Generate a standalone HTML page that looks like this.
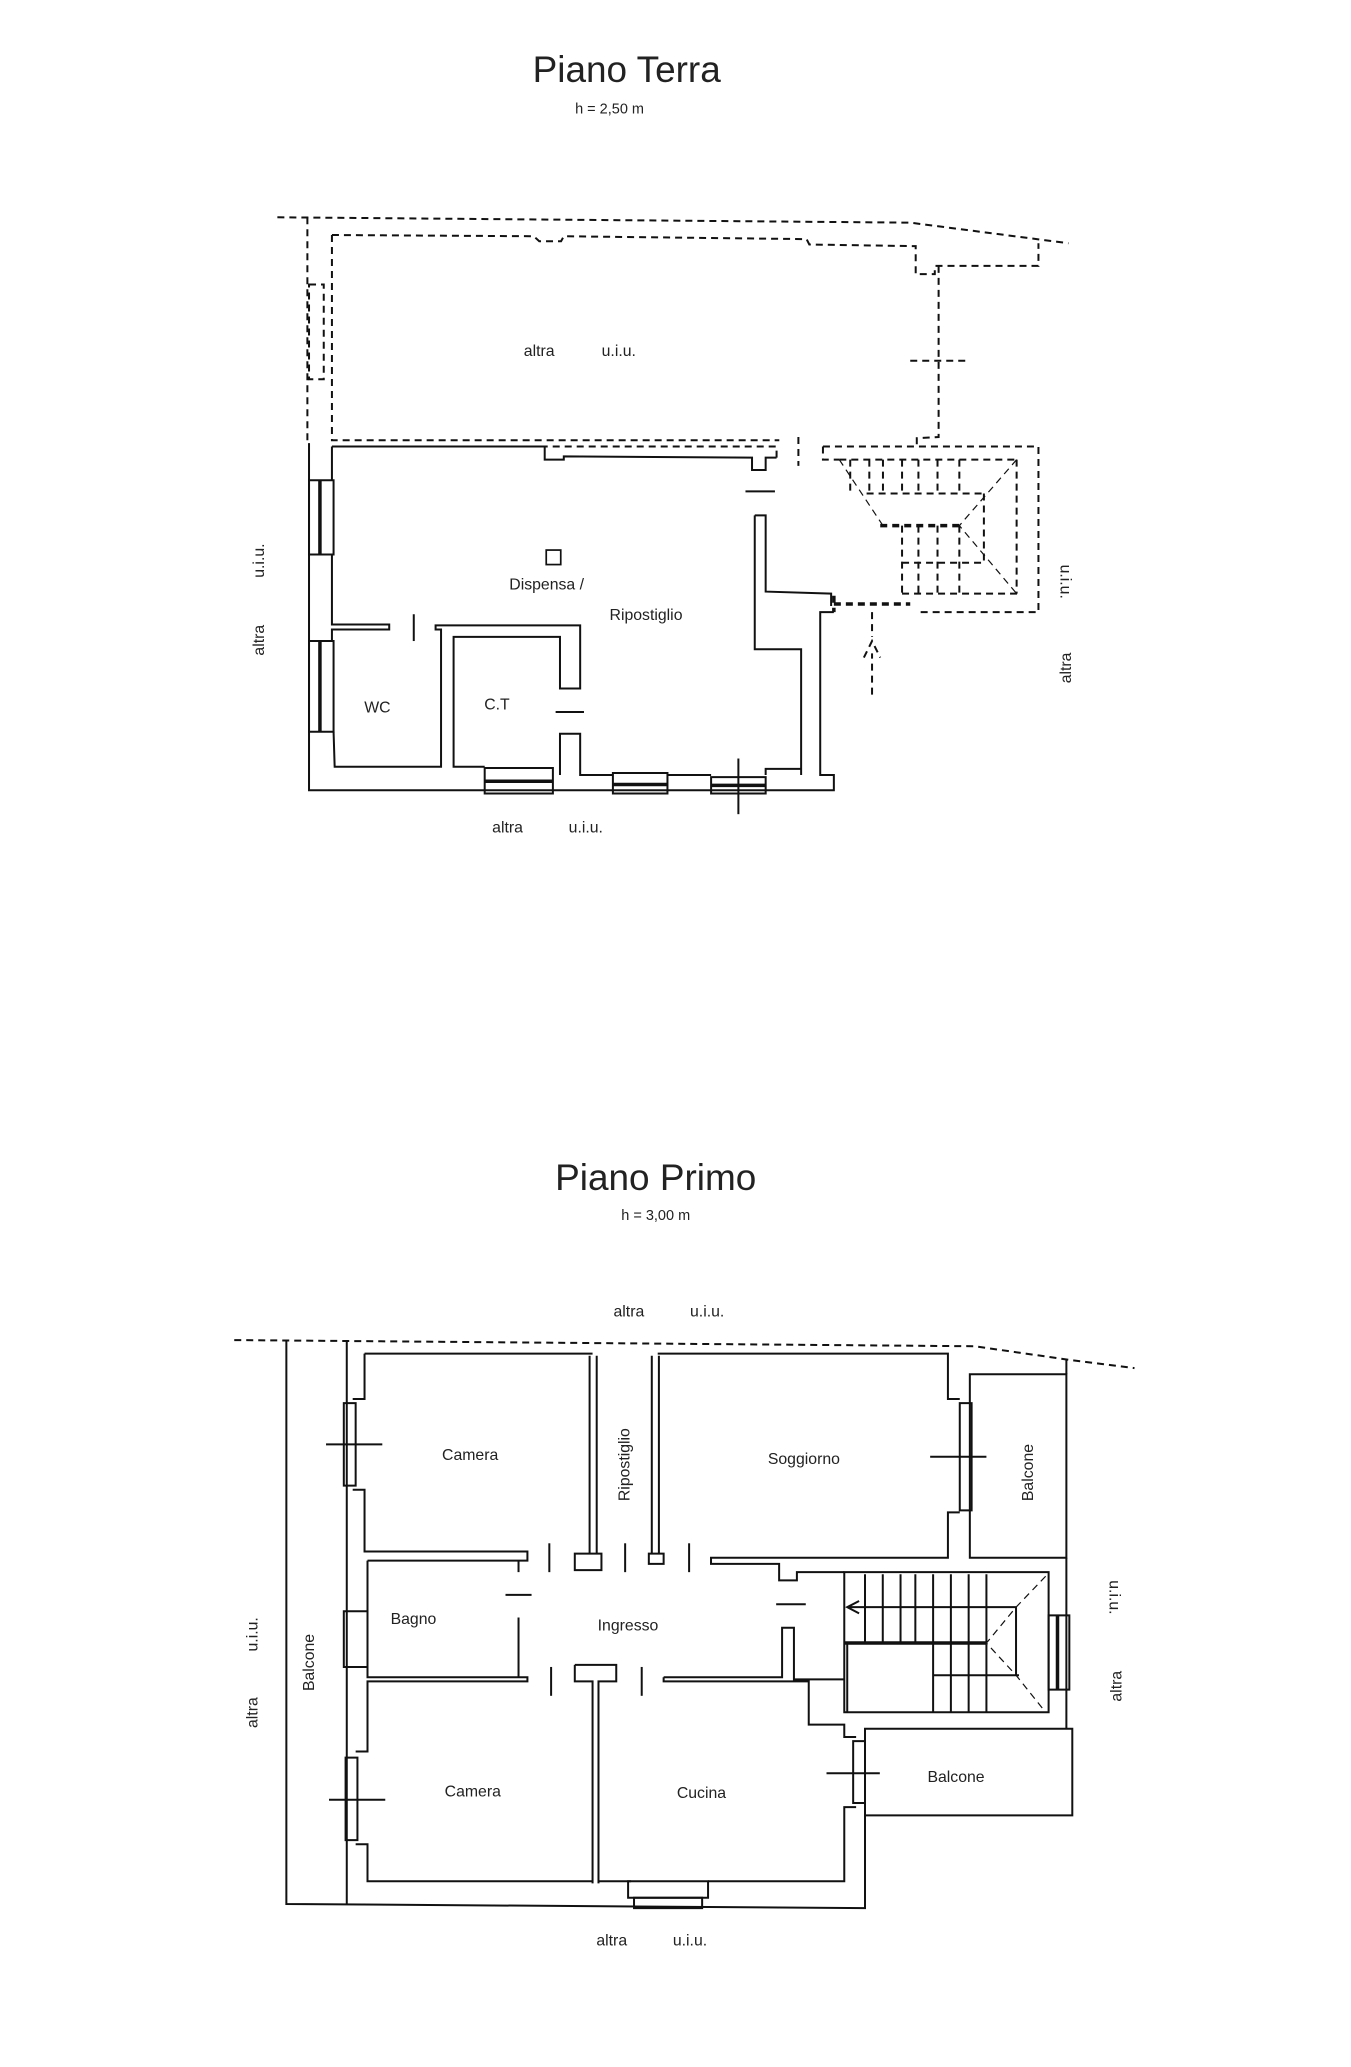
<!DOCTYPE html>
<html><head><meta charset="utf-8"><style>
html,body{margin:0;padding:0;background:#fff;}
svg{display:block}
text{font-family:"Liberation Sans",sans-serif;fill:#222}
.g path,.g line,.g rect,.g polyline{vector-effect:non-scaling-stroke;fill:none;stroke:#111;stroke-width:2}
.g .d{stroke-dasharray:7 5}
.g .b{stroke-width:3.5}
.g .t{stroke-width:1.2}
</style></head><body>
<svg width="1351" height="2067" viewBox="0 0 1024 1567" xmlns="http://www.w3.org/2000/svg">
<rect width="1024" height="1567" fill="#fff"/>
<!-- titles -->
<text x="475" y="62" font-size="28" text-anchor="middle">Piano Terra</text>
<text x="462" y="86" font-size="11" text-anchor="middle">h = 2,50 m</text>
<text x="497" y="902" font-size="28" text-anchor="middle">Piano Primo</text>
<text x="497" y="925" font-size="11" text-anchor="middle">h = 3,00 m</text>

<!-- PIANO TERRA -->
<g class="g" transform="translate(189.5,151.6) scale(0.4136,0.3125)">
<path class="d" d="M50,42 L1210,55 L1500,105"/>
<path class="d" d="M105,42 L105,590"/>
<path class="d" d="M150,85 L520,88 L530,100 L570,100 L575,88 L1020,95 L1025,108 L1220,112 L1220,180 L1255,180 L1255,160 L1445,160 L1445,105"/>
<path class="d" d="M1262,160 L1262,575 L1222,578 L1222,598"/>
<path class="d" d="M150,85 L150,583 L970,583"/>
<path class="d" d="M1210,390 L1315,390"/>
<rect class="d" x="108" y="205" width="27" height="230"/>
<path d="M150,598 L540,598 L540,630 L575,630 L575,622 L920,625 L920,655 L945,655 L945,625 L965,625"/>
<path class="d" d="M965,625 L965,598 L540,598"/>
<path d="M108,590 L108,1432 L1070,1432 L1070,1395 L1045,1395 L1045,1000 L1070,1000"/>
<path d="M150,598 L150,680 M150,860 L150,1030 L255,1030 L255,1042 L150,1042 L150,1070 M153,1290 L155,1375 L350,1375 L350,1042 L340,1042 L340,1032 L605,1032 L605,1185 L568,1185 L568,1060 L373,1060 L373,1375 L430,1375"/>
<rect x="108" y="680" width="45" height="180"/><line x1="128" y1="680" x2="128" y2="860" class="b"/>
<rect x="108" y="1070" width="45" height="220"/><line x1="128" y1="1070" x2="128" y2="1290" class="b"/>
<line x1="300" y1="1005" x2="300" y2="1070"/>
<line x1="560" y1="1242" x2="612" y2="1242"/>
<path d="M568,1395 L568,1295 L605,1295 L605,1395 L665,1395 M765,1395 L845,1395 M945,1395 L945,1380 L1010,1380"/>
<rect x="430" y="1378" width="125" height="62"/><line x1="430" y1="1410" x2="555" y2="1410" class="b"/>
<rect x="665" y="1390" width="100" height="50"/><line x1="665" y1="1418" x2="765" y2="1418" class="b"/>
<rect x="845" y="1400" width="100" height="40"/><line x1="845" y1="1420" x2="945" y2="1420" class="b"/>
<line x1="895" y1="1355" x2="895" y2="1490"/>
<line x1="908" y1="707" x2="962" y2="707"/>
<path d="M925,765 L945,765 L945,950 L1065,955 L1065,985"/>
<path d="M925,765 L925,1090 L1010,1090 L1010,1395"/>
<path class="d" d="M1005,575 L1005,645"/>
<path class="d" d="M1050,598 L1445,598 L1445,1000 L1220,1000 M1050,598 L1050,630 L1080,630"/>
<path class="d" d="M1080,630 L1405,630 M1100,630 L1100,715 M1135,630 L1135,715 M1160,630 L1160,715 M1195,630 L1195,715 M1225,630 L1225,715 M1260,630 L1260,715 M1300,630 L1300,715 M1130,712 L1350,712 M1195,790 L1195,955 M1225,790 L1225,955 M1260,790 L1260,955 M1300,790 L1300,955 M1195,880 L1345,880 M1195,955 L1410,955 M1345,712 L1345,880 M1405,630 L1405,955"/>
<path class="d b" d="M1155,790 L1300,790 M1070,980 L1210,980 M1070,960 L1070,1000"/>
<path class="d t" d="M1080,630 L1160,790 M1405,630 L1300,790 L1405,955"/>
<path class="d" d="M1140,1200 L1140,1100 M1125,1110 L1140,1070 L1155,1110 M1140,1000 L1140,1060"/>
</g>
<text x="397" y="270" font-size="12">altra</text><text x="456" y="270" font-size="12">u.i.u.</text>
<text x="386" y="447" font-size="12">Dispensa /</text>
<text x="462" y="470" font-size="12">Ripostiglio</text>
<text x="276" y="540" font-size="12">WC</text>
<text x="367" y="538" font-size="12">C.T</text>
<text x="373" y="631" font-size="12">altra</text><text x="431" y="631" font-size="12">u.i.u.</text>
<rect x="414" y="417" width="11" height="11" fill="none" stroke="#111" stroke-width="1.3"/>
<text transform="translate(200,438) rotate(-90)" font-size="12">u.i.u.</text>
<text transform="translate(200,497) rotate(-90)" font-size="12">altra</text>
<text transform="translate(804,428) rotate(90)" font-size="12">u.i.u.</text>
<text transform="translate(812,518) rotate(-90)" font-size="12">altra</text>

<!-- PIANO PRIMO -->
<g class="g" transform="translate(168.5,985.6) scale(0.449,0.3125)">
<path class="d" d="M20,97 L1270,112 L1430,145 L1540,165"/>
<path d="M108,100 L108,1465 L1085,1475 L1085,1250"/>
<path d="M210,100 L210,1465"/>
<path d="M240,130 L240,240 L220,240 M220,460 L240,460 L240,610 L515,610 L515,632 L500,632 L500,660 M245,632 L500,632"/>
<rect x="205" y="250" width="20" height="200"/>
<line x1="175" y1="350" x2="270" y2="350"/>
<path d="M240,130 L625,130 M735,130 L1225,130 L1225,240 L1245,240 M1245,515 L1225,515 L1225,625 L825,625 L825,640 L940,640 L940,680 L970,680 L970,660 L1050,660"/>
<path d="M620,135 L620,615 M632,135 L632,615 M725,135 L725,615 M737,135 L737,615"/>
<rect x="595" y="615" width="45" height="40"/>
<rect x="720" y="615" width="25" height="25"/>
<line x1="552" y1="590" x2="552" y2="660"/><line x1="680" y1="590" x2="680" y2="660"/><line x1="788" y1="590" x2="788" y2="660"/>
<rect x="1245" y="250" width="20" height="260"/>
<line x1="1195" y1="380" x2="1290" y2="380"/>
<rect x="1262" y="180" width="163" height="445"/>
<line x1="1425" y1="145" x2="1425" y2="180"/>
<path d="M245,632 L245,755 M245,890 L245,915 L515,915 L515,925 L245,925 L245,1095 L225,1095"/>
<rect x="205" y="755" width="40" height="135"/>
<line x1="478" y1="715" x2="522" y2="715"/>
<path d="M500,770 L500,915"/>
<path d="M595,885 L665,885 L665,925 L635,925 L635,1415 M595,885 L595,925 L625,925 L625,1415"/>
<line x1="555" y1="890" x2="555" y2="960"/><line x1="708" y1="890" x2="708" y2="960"/>
<path d="M745,915 L945,915 L945,795 L965,795 L965,920 L1050,920 M745,915 L745,925 L990,925 L990,1030 L1050,1030 L1050,1060 L1070,1060"/>
<line x1="935" y1="738" x2="985" y2="738"/>
<rect x="1050" y="660" width="345" height="340"/>
<path d="M1085,665 L1085,830 M1115,665 L1115,830 M1145,665 L1145,830 M1170,665 L1170,830 M1200,665 L1200,830 M1230,665 L1230,830 M1260,665 L1260,830 M1290,665 L1290,830"/>
<path class="b" d="M1050,832 L1290,832"/>
<path d="M1340,745 L1055,745 M1075,730 L1055,745 L1075,760"/>
<path d="M1200,835 L1200,1000 M1230,835 L1230,1000 M1260,835 L1260,1000 M1290,835 L1290,1000 M1200,910 L1345,910 M1340,745 L1340,910 M1055,830 L1055,1000"/>
<path class="d t" d="M1390,670 L1340,745 L1290,832 L1340,910 L1390,1000"/>
<rect x="1395" y="765" width="35" height="180"/>
<line x1="1410" y1="765" x2="1410" y2="945" class="b"/>
<path d="M225,1320 L245,1320 L245,1410 L625,1410 M635,1410 L690,1410 M820,1410 L1050,1410 L1050,1230 L1070,1230"/>
<rect x="208" y="1110" width="20" height="200"/>
<line x1="180" y1="1212" x2="275" y2="1212"/>
<rect x="685" y="1410" width="135" height="40"/>
<rect x="695" y="1450" width="115" height="25"/>
<rect x="1065" y="1070" width="20" height="150"/>
<line x1="1020" y1="1148" x2="1110" y2="1148"/>
<rect x="1085" y="1040" width="350" height="210"/>
<line x1="1425" y1="625" x2="1425" y2="1040"/>
</g>
<text x="465" y="998" font-size="12">altra</text><text x="523" y="998" font-size="12">u.i.u.</text>
<text x="335" y="1107" font-size="12">Camera</text>
<text x="582" y="1110" font-size="12">Soggiorno</text>
<text x="296" y="1231" font-size="12">Bagno</text>
<text x="453" y="1236" font-size="12">Ingresso</text>
<text x="337" y="1362" font-size="12">Camera</text>
<text x="513" y="1363" font-size="12">Cucina</text>
<text x="703" y="1351" font-size="12">Balcone</text>
<text x="452" y="1475" font-size="12">altra</text><text x="510" y="1475" font-size="12">u.i.u.</text>
<text transform="translate(477,1138) rotate(-90)" font-size="12">Ripostiglio</text>
<text transform="translate(783,1138) rotate(-90)" font-size="12">Balcone</text>
<text transform="translate(238,1282) rotate(-90)" font-size="12">Balcone</text>
<text transform="translate(195,1252) rotate(-90)" font-size="12">u.i.u.</text>
<text transform="translate(195,1310) rotate(-90)" font-size="12">altra</text>
<text transform="translate(841,1198) rotate(90)" font-size="12">u.i.u.</text>
<text transform="translate(850,1290) rotate(-90)" font-size="12">altra</text>
</svg>
</body></html>
